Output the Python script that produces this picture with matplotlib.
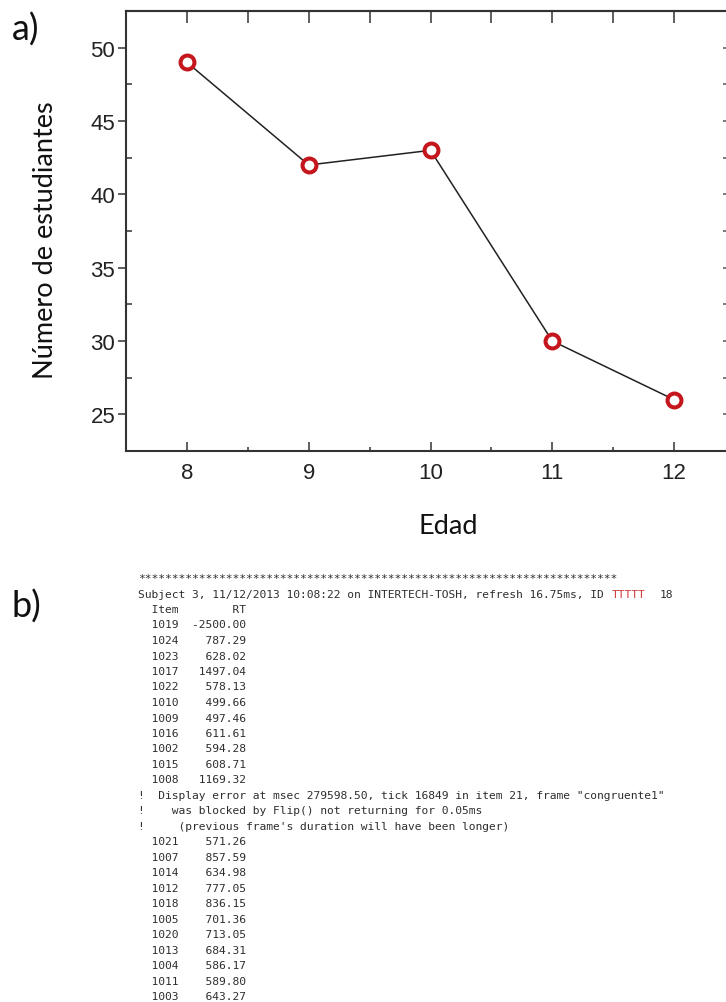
import numpy as np
import matplotlib
matplotlib.use('Agg')
import matplotlib.pyplot as plt
from matplotlib.ticker import MultipleLocator

# ---- a) number of students by age
edades = [8, 9, 10, 11, 12]
estudiantes = [49, 42, 43, 30, 26]

# ---- b) E-Prime style log
cabecera = 'Subject 3, 11/12/2013 10:08:22 on INTERTECH-TOSH, refresh 16.75ms, ID'
sujeto_id = 'TTTTT'
sujeto_fin = '18'
items_1 = [1019, 1024, 1023, 1017, 1022, 1010, 1009, 1016, 1002, 1015, 1008]
rt_1 = [-2500.00, 787.29, 628.02, 1497.04, 578.13, 499.66, 497.46, 611.61, 594.28, 608.71, 1169.32]
avisos = ['!  Display error at msec 279598.50, tick 16849 in item 21, frame "congruente1"',
          '!    was blocked by Flip() not returning for 0.05ms',
          "!     (previous frame's duration will have been longer)"]
items_2 = [1021, 1007, 1014, 1012, 1018, 1005, 1020, 1013, 1004, 1011, 1003]
rt_2 = [571.26, 857.59, 634.98, 777.05, 836.15, 701.36, 713.05, 684.31, 586.17, 589.80, 643.27]

W, H = 726, 1003
plt.rcParams['font.family'] = 'Liberation Sans'

fig = plt.figure(figsize=(W / 100, H / 100), dpi=100)
fig.patch.set_facecolor('white')

def fx(px):
	return px / W

def fy(py):
	return 1 - py / H

ax = fig.add_axes([fx(126), fy(452), fx(735) - fx(126), fy(12) - fy(452)])
ax.plot(edades, estudiantes, color='#222222', lw=1.1, marker='o', ms=10,
		mew=2.9, mec='#c4161c', mfc='white', zorder=3)
ax.set_xlim(7.5, 12.5)
ax.set_ylim(22.5, 52.5)

for s in ax.spines.values():
	s.set_linewidth(1.5)
	s.set_color('#333333')

ax.xaxis.set_major_locator(MultipleLocator(1))
ax.xaxis.set_minor_locator(MultipleLocator(0.5))
ax.yaxis.set_major_locator(MultipleLocator(5))
ax.yaxis.set_minor_locator(MultipleLocator(2.5))
ax.tick_params(axis='x', which='major', direction='in', length=6.5, width=1.1,
			   pad=8, labelsize=16, colors='#333333', labelcolor='#222222', top=False)
ax.tick_params(axis='x', which='minor', direction='in', length=3, width=1.1,
			   colors='#333333', top=False)
ax.tick_params(axis='y', which='major', direction='out', length=5.8, width=1.1,
			   pad=2, labelsize=16, colors='#333333', labelcolor='#222222', right=False)
ax.tick_params(axis='y', which='minor', direction='in', length=4.3, width=1.1,
			   colors='#333333', right=False)

secx = ax.secondary_xaxis('top')
secx.xaxis.set_major_locator(MultipleLocator(0.5))
secx.tick_params(direction='in', length=8.6, width=1.1, labeltop=False, colors='#333333')
secx.spines['top'].set_linewidth(1.5)
secx.spines['top'].set_color('#333333')

secy = ax.secondary_yaxis('right')
secy.yaxis.set_major_locator(MultipleLocator(2.5))
secy.tick_params(direction='in', length=8.6, width=1.1, labelright=False, colors='#555555')

fig.text(fx(46), fy(240), 'Número de estudiantes', rotation=90, ha='center', va='center',
		 fontsize=19.5, family='Lato', color='#111111')
fig.text(fx(448), fy(527), 'Edad', ha='center', va='center',
		 fontsize=19.5, family='Lato', color='#111111')

fig.text(fx(12), fy(30), 'a)', ha='left', va='center', fontsize=26, family='Lato', color='#111111')
fig.text(fx(12), fy(607), 'b)', ha='left', va='center', fontsize=26, family='Lato', color='#111111')

# ---- text block b)
lineas = ['*' * 71, cabecera, '  Item        RT']
lineas += ['  %d  %8.2f' % (i, r) for i, r in zip(items_1, rt_1)]
lineas += avisos
lineas += ['  %d  %8.2f' % (i, r) for i, r in zip(items_2, rt_2)]

x0 = 138
y0 = 579
paso = 15.5
tam = 8.1
ancho = 0.602 * tam * 100 / 72      # advance of one monospace char, px
mono = dict(family='DejaVu Sans Mono', fontsize=tam, ha='left', va='center')
for k, txt in enumerate(lineas):
	fig.text(fx(x0), fy(y0 + k * paso), txt, color='#2e2e2e', **mono)
col = len(cabecera) + 1
fig.text(fx(x0 + col * ancho), fy(y0 + paso), sujeto_id, color='#d03a3a', **mono)
col += len(sujeto_id) + 2
fig.text(fx(x0 + col * ancho), fy(y0 + paso), sujeto_fin, color='#2e2e2e', **mono)

fig.savefig('out.png', dpi=100, facecolor='white')
